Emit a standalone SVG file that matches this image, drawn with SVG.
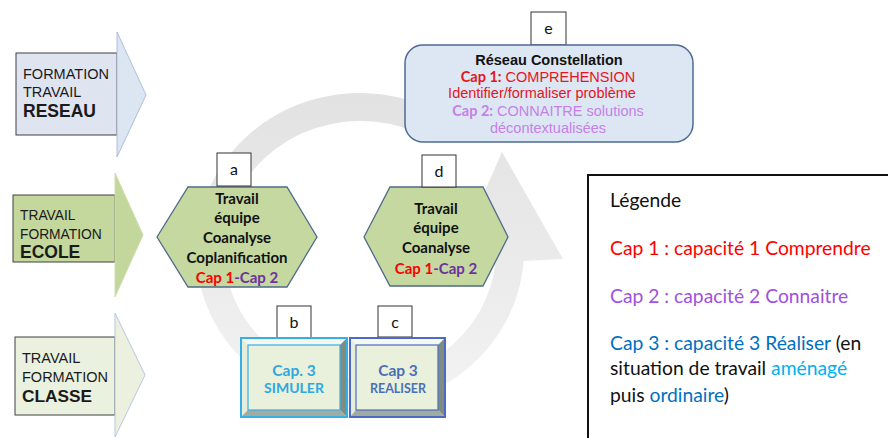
<svg xmlns="http://www.w3.org/2000/svg" width="888" height="438" viewBox="0 0 888 438">
<defs>
<linearGradient id="arcGrad" gradientUnits="userSpaceOnUse" x1="0" y1="90" x2="0" y2="420">
<stop offset="0" stop-color="#e2e2e2"/>
<stop offset="0.5" stop-color="#eaeaea"/>
<stop offset="1" stop-color="#f4f4f4"/>
</linearGradient>
<style>
.lbl{fill:#fff;stroke:#333;stroke-width:1}
.lbltxt{font-family:Lato,"Liberation Sans",sans-serif;font-size:16px;fill:#111;text-anchor:middle}
.rowtxt{font-family:"Liberation Sans",Arial,sans-serif;fill:#1a1a1a}
.rowbox{stroke:#404040;stroke-width:1}
.hex{fill:#c4d8a0;stroke:#4f6b8a;stroke-width:1.3}
.hextxt{font-family:Lato,"Liberation Sans",sans-serif;font-weight:bold;font-size:15px;fill:#111;text-anchor:middle}
.red{fill:#ff0000}
.pur{fill:#7030a0}
.ebox{font-family:"Liberation Sans",Arial,sans-serif;font-size:14.5px;text-anchor:middle}
.leg{font-family:Lato,"Liberation Sans",sans-serif;font-size:19.3px}
.btxt{font-family:Lato,"Liberation Sans",sans-serif;font-weight:bold;text-anchor:middle}
</style>
</defs>
<rect width="888" height="438" fill="#ffffff"/>

<g id="connectors">
<path d="M523.6,261 A164,157 0 1 1 442,114 L428,138.3 A136,129 0 1 0 495.7,259 L455,259 L502,152 L563,259 Z" fill="url(#arcGrad)"/>
</g>

<g id="row-reseau">
<rect class="rowbox" x="16" y="53" width="101" height="82" fill="#dfe4f1"/>
<polygon points="117,32 146,95 117,157" fill="#dce6f2" stroke="#aebfe0" stroke-width="1"/>
<text class="rowtxt" x="23" y="79" font-size="14.5">FORMATION</text>
<text class="rowtxt" x="23" y="97" font-size="14.5">TRAVAIL</text>
<text class="rowtxt" x="23" y="117" font-size="17.5" font-weight="bold">RESEAU</text>
</g>

<g id="row-ecole">
<rect class="rowbox" x="13" y="195" width="102" height="67" fill="#c4d79c"/>
<polygon points="115,173 143,235 115,297" fill="#c3d69b" stroke="#cddfb0" stroke-width="1"/>
<text class="rowtxt" x="20" y="220" font-size="13.8">TRAVAIL</text>
<text class="rowtxt" x="20" y="239" font-size="13.8">FORMATION</text>
<text class="rowtxt" x="20" y="258" font-size="17.5" font-weight="bold">ECOLE</text>
</g>

<g id="row-classe">
<rect class="rowbox" x="15" y="337" width="100" height="78" fill="#ebf1df"/>
<polygon points="115,313 145,375 115,437" fill="#ebf1de" stroke="#b8c8e2" stroke-width="1"/>
<text class="rowtxt" x="22" y="363" font-size="14.5">TRAVAIL</text>
<text class="rowtxt" x="22" y="382" font-size="14.5">FORMATION</text>
<text class="rowtxt" x="22" y="402" font-size="17.3" font-weight="bold">CLASSE</text>
</g>

<g id="node-e">
<rect x="531" y="12" width="35" height="33" class="lbl"/>
<text class="lbltxt" x="548.5" y="34">e</text>
<rect x="405" y="45" width="288" height="97" rx="18" ry="18" fill="#dce7f3" stroke="#4d6b95" stroke-width="1.5"/>
<text class="ebox" x="549" y="65" font-size="15" font-weight="bold" fill="#111">Réseau Constellation</text>
<text class="ebox" x="548" y="82" fill="#e8141e"><tspan font-family="Lato,sans-serif" font-weight="bold">Cap 1:</tspan> COMPREHENSION</text>
<text class="ebox" x="542" y="98" fill="#e8141e">Identifier/formaliser problème</text>
<text class="ebox" x="548" y="116" fill="#c77fea"><tspan font-family="Lato,sans-serif" font-weight="bold">Cap 2:</tspan> CONNAITRE solutions</text>
<text class="ebox" x="548" y="133" fill="#c77fea">décontextualisées</text>
</g>

<g id="node-a">
<polygon class="hex" points="157,237 188,187 287,187 317,237 287,287 188,287"/>
<rect x="217" y="153" width="34" height="33" class="lbl"/>
<text class="lbltxt" x="234" y="175">a</text>
<text class="hextxt" x="237" y="204">Travail</text>
<text class="hextxt" x="237" y="223">équipe</text>
<text class="hextxt" x="237" y="243">Coanalyse</text>
<text class="hextxt" x="237" y="263">Coplanification</text>
<text class="hextxt" x="237" y="283"><tspan class="red">Cap 1</tspan><tspan class="pur">-Cap 2</tspan></text>
</g>

<g id="node-d">
<polygon class="hex" points="364,237 390,187 483,187 508,237 483,286 390,286"/>
<rect x="422" y="155" width="34" height="32" class="lbl"/>
<text class="lbltxt" x="439" y="177">d</text>
<text class="hextxt" x="436" y="214">Travail</text>
<text class="hextxt" x="436" y="233">équipe</text>
<text class="hextxt" x="436" y="253">Coanalyse</text>
<text class="hextxt" x="436" y="274"><tspan class="red">Cap 1</tspan><tspan class="pur">-Cap 2</tspan></text>
</g>

<g id="node-b">
<rect x="277" y="306" width="34" height="32" class="lbl"/>
<text class="lbltxt" x="294" y="328">b</text>
<rect x="241" y="338" width="106" height="79" fill="#e9f1dc"/>
<polygon points="241,338 347,338 340,345 248,345" fill="#f5f8ef"/>
<polygon points="241,338 248,345 248,410 241,417" fill="#e6eddb"/>
<polygon points="347,338 347,417 340,410 340,345" fill="#7f8c80"/>
<polygon points="241,417 347,417 340,410 248,410" fill="#a2ab9f"/>
<rect x="241" y="338" width="106" height="79" fill="none" stroke="#35b0e6" stroke-width="2"/>
<rect x="248" y="345" width="92" height="65" fill="none" stroke="#35b0e6" stroke-width="1.2"/>
<text class="btxt" x="294" y="376" font-size="15.5" fill="#2ea8df">Cap. 3</text>
<text class="btxt" x="294" y="393" font-size="14" fill="#2ea8df">SIMULER</text>
</g>

<g id="node-c">
<rect x="378" y="306" width="34" height="31" class="lbl"/>
<text class="lbltxt" x="395" y="328">c</text>
<rect x="350" y="338" width="95" height="79" fill="#e9f1dc"/>
<polygon points="350,338 445,338 438,345 356,345" fill="#f5f8ef"/>
<polygon points="350,338 356,345 356,410 350,417" fill="#e6eddb"/>
<polygon points="445,338 445,417 438,410 438,345" fill="#7f8c80"/>
<polygon points="350,417 445,417 438,410 356,410" fill="#a2ab9f"/>
<rect x="350" y="338" width="95" height="79" fill="none" stroke="#4d6bc6" stroke-width="2"/>
<rect x="356" y="345" width="82" height="65" fill="none" stroke="#4d6bc6" stroke-width="1.2"/>
<text class="btxt" x="398" y="376" font-size="15.5" fill="#4a70b8">Cap 3</text>
<text class="btxt" x="398" y="393" font-size="12.5" fill="#4a70b8">REALISER</text>
</g>

<g id="legend">
<rect x="588" y="175" width="310" height="280" fill="#ffffff" stroke="#111" stroke-width="2"/>
<text class="leg" x="610" y="207" style="fill:#111">Légende</text>
<text class="leg" x="610" y="255" style="fill:#ff0000">Cap 1 : capacité 1 Comprendre</text>
<text class="leg" x="610" y="303" style="fill:#a050e0">Cap 2 : capacité 2 Connaitre</text>
<text class="leg" x="610" y="350" style="fill:#111"><tspan style="fill:#0070c0">Cap 3 : capacité 3 Réaliser</tspan> (en</text>
<text class="leg" x="610" y="375" style="fill:#111">situation de travail <tspan style="fill:#00b0f0">aménagé</tspan></text>
<text class="leg" x="610" y="402" style="fill:#111">puis <tspan style="fill:#0070c0">ordinaire</tspan>)</text>
</g>
</svg>
